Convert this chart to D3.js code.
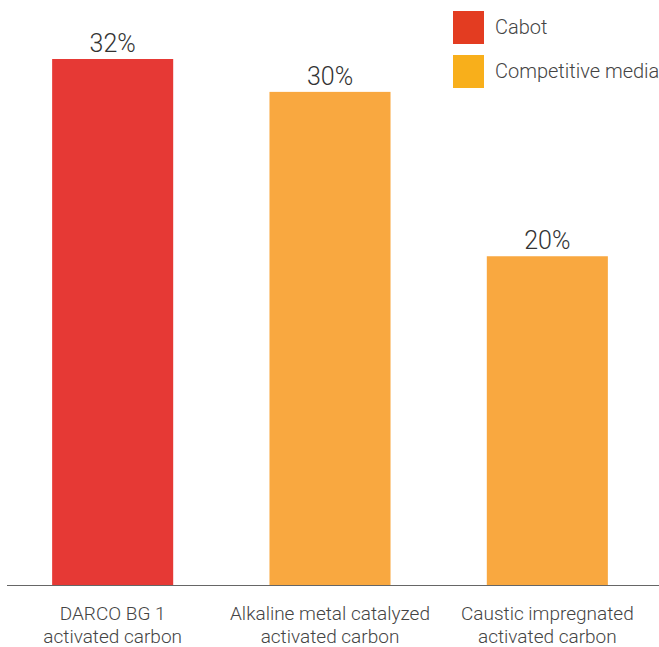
<!DOCTYPE html>
<html>
<head>
<meta charset="utf-8">
<script src="https://cdn.jsdelivr.net/npm/d3@7"></script>
<style>
  html, body { margin: 0; padding: 0; background: #fff; }
  svg { display: block; font-family: Roboto, "Liberation Sans", sans-serif; font-weight: 300; }
</style>
</head>
<body>
<div id="chart"></div>
<script>
// --- Data ---
const categories = [
  ["DARCO BG 1", "activated carbon"],
  ["Alkaline metal catalyzed", "activated carbon"],
  ["Caustic impregnated", "activated carbon"]
];
const values = [32, 30, 20];
const groups = ["Cabot", "Competitive media", "Competitive media"];
const legendItems = ["Cabot", "Competitive media"];

// --- Setup ---
const width = 659, height = 647;
const baseY = 585;
const svg = d3.select('#chart').append('svg').attr('width', width).attr('height', height);

const x = d3.scaleBand()
  .domain(d3.range(categories.length))
  .range([4, 656])
  .paddingInner(0.443)
  .paddingOuter(0.2215);

const y = d3.scaleLinear().domain([0, 32]).range([baseY, 59]);

const barColor = d3.scaleOrdinal().domain(legendItems).range(['#e63935', '#f9a840']);
const legendColor = d3.scaleOrdinal().domain(legendItems).range(['#e33c21', '#f8af1b']);

// bars
svg.selectAll('rect.bar')
  .data(values)
  .join('rect')
  .attr('class', 'bar')
  .attr('x', (d, i) => x(i))
  .attr('width', x.bandwidth())
  .attr('y', d => y(d))
  .attr('height', d => y(0) - y(d))
  .attr('fill', (d, i) => barColor(groups[i]));

// value labels
svg.selectAll('text.val')
  .data(values)
  .join('text')
  .attr('class', 'val')
  .attr('x', (d, i) => x(i) + x.bandwidth() / 2)
  .attr('y', d => y(d) - 7)
  .attr('text-anchor', 'middle')
  .attr('font-size', 25)
  .attr('fill', '#333')
  .text(d => d + '%');

// baseline
svg.append('line')
  .attr('x1', 7).attr('x2', width)
  .attr('y1', baseY + 0.5).attr('y2', baseY + 0.5)
  .attr('stroke', '#666').attr('stroke-width', 1.2);

// category labels
const cat = svg.selectAll('text.cat')
  .data(categories)
  .join('text')
  .attr('class', 'cat')
  .attr('text-anchor', 'middle')
  .attr('font-size', 19)
  .attr('fill', '#444');
cat.selectAll('tspan')
  .data((d, i) => d.map(line => ({ line, i })))
  .join('tspan')
  .attr('x', d => x(d.i) + x.bandwidth() / 2)
  .attr('y', (d, j) => 620 + j * 23)
  .text(d => d.line);

// legend
const leg = svg.selectAll('g.leg')
  .data(legendItems)
  .join('g')
  .attr('class', 'leg')
  .attr('transform', (d, i) => `translate(453,${11 + i * 44})`);
leg.append('rect').attr('width', 31).attr('height', 33).attr('fill', d => legendColor(d));
leg.append('text')
  .attr('x', 42).attr('y', 23)
  .attr('font-size', 20)
  .attr('fill', '#444')
  .text(d => d);
</script>
</body>
</html>
